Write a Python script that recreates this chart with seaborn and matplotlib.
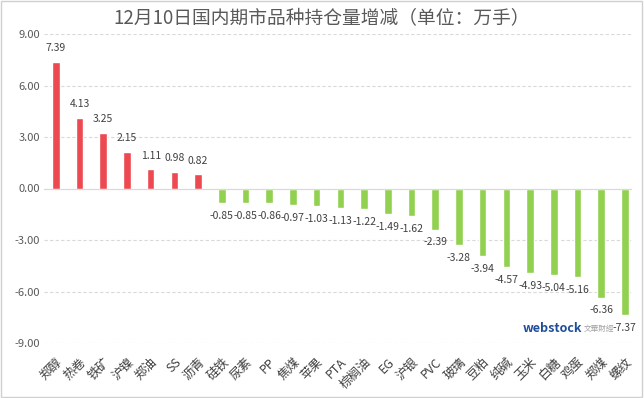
import pandas as pd
import seaborn as sns
import matplotlib.pyplot as plt
from matplotlib.patches import Rectangle

varieties = ["郑醇", "热卷", "铁矿", "沪镍", "郑油", "SS", "沥青", "硅铁", "尿素", "PP",
             "焦煤", "苹果", "PTA", "棕榈油", "EG", "沪银", "PVC", "玻璃", "豆粕", "纯碱",
             "玉米", "白糖", "鸡蛋", "郑煤", "螺纹"]
changes = [7.39, 4.13, 3.25, 2.15, 1.11, 0.98, 0.82, -0.85, -0.85, -0.86,
           -0.97, -1.03, -1.13, -1.22, -1.49, -1.62, -2.39, -3.28, -3.94, -4.57,
           -4.93, -5.04, -5.16, -6.36, -7.37]
y_ticks = [-9, -6, -3, 0, 3, 6, 9]

df = pd.DataFrame({"品种": varieties, "增减": changes})
df["方向"] = ["增" if v > 0 else "减" for v in changes]

sns.set_style("white")
plt.rcParams["font.family"] = ["Noto Sans CJK SC", "DejaVu Sans"]

fig = plt.figure(figsize=(6.44, 3.98), dpi=100)
ax = fig.add_axes([44 / 644, 55 / 398, 588 / 644, 309 / 398])
sns.barplot(data=df, x="品种", y="增减", hue="方向",
            palette={"增": "#EC4A50", "减": "#92D050"}, saturation=1,
            width=0.32, dodge=False, legend=False, ax=ax)

ax.set_ylim(-9, 9)
ax.set_xlim(-0.5, 24.3)
ax.set_yticks(y_ticks)
ax.set_yticklabels([f"{t:.2f}" for t in y_ticks], fontsize=8, color="#595959")
ax.set_xticks(range(len(varieties)))
ax.set_xticklabels(varieties, rotation=45, ha="right", rotation_mode="anchor",
                   fontsize=9, color="#404040")
ax.tick_params(axis="y", length=0, pad=3)
ax.tick_params(axis="x", length=0, pad=9)
ax.set_xlabel("")
ax.set_ylabel("")
ax.grid(axis="y", color="#D9D9D9", linestyle=(0, (3, 2)), linewidth=0.8)
ax.set_axisbelow(True)
for s in ax.spines.values():
    s.set_visible(False)
ax.axhline(0, color="#D9D9D9", linewidth=0.8)

for i, v in enumerate(changes):
    if v > 0:
        ax.text(i, v + 0.5, f"{v:.2f}", ha="center", va="bottom", fontsize=7.5, color="#404040")
    else:
        ax.text(i, v - 0.45, f"{v:.2f}", ha="center", va="top", fontsize=7.5, color="#404040")

fig.text(0.5, 0.955, "12月10日国内期市品种持仓量增减（单位：万手）", ha="center", va="center",
         fontsize=13.5, color="#595959")
fig.text(0.857, 0.175, "webstock", ha="center", va="center", fontsize=9,
         fontweight="bold", color="#1F4E9A")
fig.text(0.907, 0.173, "文華財經", ha="left", va="center", fontsize=5.5, color="#A0A0A0")

fig.patches.append(Rectangle((0.002, 0.003), 0.995, 0.994, transform=fig.transFigure,
                             fill=False, edgecolor="#D0D0D0", linewidth=1))

fig.savefig("out.png", dpi=100)
